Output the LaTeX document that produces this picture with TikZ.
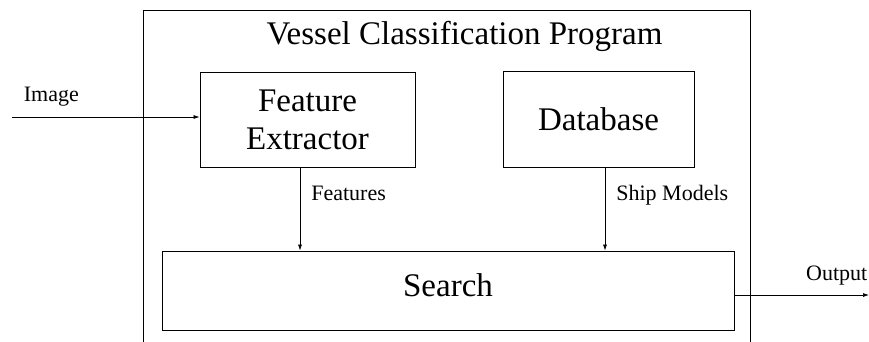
\documentclass[tikz,border=0pt]{standalone}
\usepackage{fontspec}
\setmainfont{Liberation Serif}
\usetikzlibrary{arrows.meta,positioning}

\begin{document}
\begin{tikzpicture}[
    x=1pt, y=-1pt,
    >={Latex[length=6pt,width=4pt]},
    block/.style={draw,line width=0.8pt,inner sep=0pt,align=center,font=\fontsize{33}{38}\selectfont},
    lbl/.style={font=\fontsize{22}{24}\selectfont,inner sep=0pt},
    every edge/.style={draw,->,line width=0.7pt}
  ]
    \useasboundingbox (0,0) rectangle (869,341);
    \node (program) [draw,line width=0.8pt,minimum width=607pt,minimum height=340pt] at (446.5,180) {};
    \node (title) [anchor=base,inner sep=0pt,font=\fontsize{33}{38}\selectfont] at (464.5,44) {Vessel Classification Program};

    \node (extractor) [block,minimum width=215pt,minimum height=95pt] at (307.5,119.5) {Feature\\Extractor};
    \node (database) [block,minimum width=191pt,minimum height=96pt] at (598.5,119) {Database};
    \node (search) [block,minimum width=572pt,minimum height=79pt,text depth=10pt] at (448,290.5) {Search};

    \coordinate (imagein) at (12,117);
    \coordinate (outputend) at (869,295);

    \path (imagein) edge node[lbl,above=10pt,pos=0.21] {Image} (extractor.west |- imagein)
          ([xshift=-7.5pt]extractor.south) edge node[lbl,text depth=0pt,right=11pt,pos=0.31] {Features}
                ([xshift=-7.5pt]extractor.south |- search.north)
          ([xshift=6.5pt]database.south) edge node[lbl,text depth=0pt,right=11pt,pos=0.31] {Ship Models}
                ([xshift=6.5pt]database.south |- search.north)
          (search.east |- outputend) edge node[lbl,above=9pt,pos=0.76] {Output} (outputend);
  \end{tikzpicture}
\end{document}
